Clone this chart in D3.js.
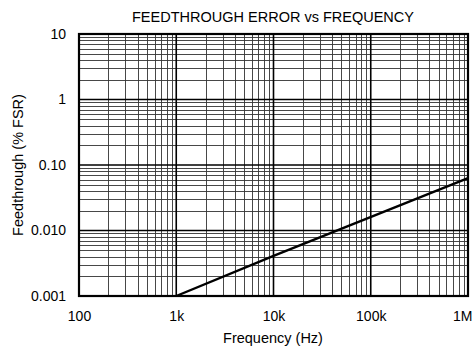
<!DOCTYPE html>
<html><head><meta charset="utf-8">
<script src="https://cdn.jsdelivr.net/npm/d3@7"></script>
<style>body{margin:0;background:#fff}svg{display:block;font-family:"Liberation Sans",Arial,sans-serif}</style>
</head><body><svg id="c" width="473" height="349"></svg>
<script>
const title = "FEEDTHROUGH ERROR vs FREQUENCY";
const xTitle = "Frequency (Hz)";
const yTitle = "Feedthrough (% FSR)";
const xTickValues = [100, 1000, 10000, 100000, 1000000];
const xTickLabels = ["100", "1k", "10k", "100k", "1M"];
const yTickValues = [0.001, 0.01, 0.1, 1, 10];
const yTickLabels = ["0.001", "0.010", "0.10", "1", "10"];
const freq = [1000, 10000, 1000000];
const feedthrough = [0.001, 0.0041, 0.063];

const svg = d3.select("#c");
const L = 79, R = 468, T = 34, B = 296;
const x = d3.scaleLog().domain([100, 1e6]).range([L, R]);
const y = d3.scaleLog().domain([0.001, 10]).range([B, T]);

const minorX = [], minorY = [];
for (let d = 100; d < 1e6; d *= 10) for (let k = 2; k <= 9; k++) minorX.push(d * k);
for (let d = 0.001; d < 9; d *= 10) for (let k = 2; k <= 9; k++) minorY.push(d * k);

const g = svg.append("g");
g.selectAll(".mx").data(minorX).enter().append("line")
  .attr("x1", d => Math.round(x(d)) + 0.5).attr("x2", d => Math.round(x(d)) + 0.5)
  .attr("y1", T).attr("y2", B).attr("stroke", "#333").attr("stroke-width", 0.9);
g.selectAll(".my").data(minorY).enter().append("line")
  .attr("y1", d => Math.round(y(d)) + 0.5).attr("y2", d => Math.round(y(d)) + 0.5)
  .attr("x1", L).attr("x2", R).attr("stroke", "#333").attr("stroke-width", 0.9);
g.selectAll(".Mx").data(xTickValues).enter().append("line")
  .attr("x1", d => x(d)).attr("x2", d => x(d))
  .attr("y1", T).attr("y2", B).attr("stroke", "#000").attr("stroke-width", 1.6);
g.selectAll(".My").data(yTickValues).enter().append("line")
  .attr("y1", d => y(d)).attr("y2", d => y(d))
  .attr("x1", L).attr("x2", R).attr("stroke", "#000").attr("stroke-width", 1.6);
svg.append("rect").attr("x", L).attr("y", T).attr("width", R - L).attr("height", B - T)
  .attr("fill", "none").attr("stroke", "#000").attr("stroke-width", 2.2);

const line = d3.line().x(d => x(d[0])).y(d => y(d[1]));
svg.append("path").datum(freq.map((f, i) => [f, feedthrough[i]]))
  .attr("d", line).attr("fill", "none").attr("stroke", "#000").attr("stroke-width", 2.4);

const xAxis = d3.axisBottom(x).tickValues(xTickValues).tickFormat((d, i) => xTickLabels[i]).tickSize(0).tickPadding(15);
const yAxis = d3.axisLeft(y).tickValues(yTickValues).tickFormat((d, i) => yTickLabels[i]).tickSize(0).tickPadding(13);
const ax = svg.append("g").attr("transform", `translate(0,${B})`).call(xAxis);
const ay = svg.append("g").attr("transform", `translate(${L},0)`).call(yAxis);
[ax, ay].forEach(a => { a.select(".domain").remove(); a.selectAll("text").attr("font-size", 14).attr("fill", "#000").attr("font-family", "Liberation Sans, Arial, sans-serif"); });
ax.selectAll("text").filter((d, i) => i === xTickValues.length - 1).attr("text-anchor", "end").attr("dx", 4);

svg.append("text").attr("x", 273).attr("y", 22).attr("text-anchor", "middle")
  .attr("font-size", 14.5).text(title);
svg.append("text").attr("x", 273).attr("y", 343).attr("text-anchor", "middle")
  .attr("font-size", 14.5).text(xTitle);
svg.append("text").attr("transform", "translate(23,165) rotate(-90)").attr("text-anchor", "middle")
  .attr("font-size", 14.5).text(yTitle);
</script></body></html>
